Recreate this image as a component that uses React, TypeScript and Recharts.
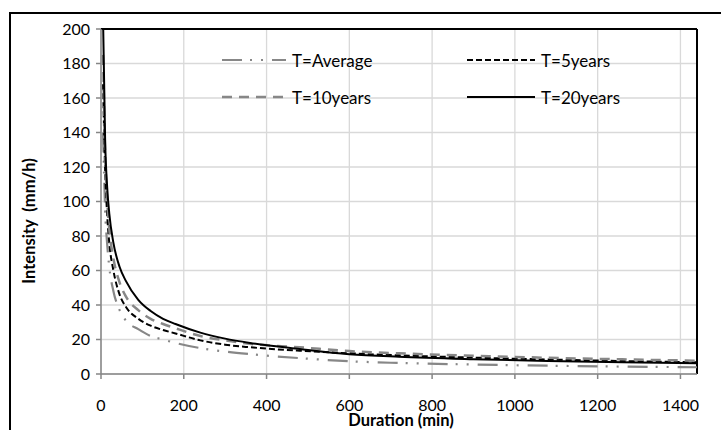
import React from 'react'
import { LineChart, Line, XAxis, YAxis, CartesianGrid, ReferenceLine } from 'recharts'

// durations in minutes
const durations = [5, 10, 15, 20, 30, 45, 60, 90, 120, 150, 180, 240, 300, 360, 480, 600, 720, 900, 1080, 1260, 1440]

// intensity in mm/h
const tAverage = [140, 95, 75, 62, 48, 37, 31, 26, 22, 20, 18, 15, 13, 11.5, 9.2, 7.4, 6.4, 5.5, 4.8, 4.3, 3.9]
const t5years = [168, 118, 92, 76, 60, 46, 39, 32, 28, 25.5, 23.5, 19.5, 17, 15.5, 13.5, 12, 10.8, 9.5, 8.4, 7.5, 6.8]
const t10years = [185, 128, 100, 84, 67, 53, 45, 37, 32, 29, 26.5, 22, 19.5, 17.5, 15.5, 13.3, 12, 10.6, 9.4, 8.5, 7.7]
const t20years = [205, 135, 108, 93, 76, 62, 54, 43, 36.5, 32, 29, 24, 20.5, 18, 14.5, 11.5, 10, 8.6, 7.6, 6.8, 6.2]

const xTicks = [0, 200, 400, 600, 800, 1000, 1200, 1400]
const yTicks = [0, 20, 40, 60, 80, 100, 120, 140, 160, 180, 200]

const series = [
  { key: 'avg', name: 'T=Average', color: '#878787', dash: '20 8 2 9 2 9', width: 2.2 },
  { key: 't5', name: 'T=5years', color: '#000000', dash: '6 3', width: 2 },
  { key: 't10', name: 'T=10years', color: '#878787', dash: '10 7', width: 2.5 },
  { key: 't20', name: 'T=20years', color: '#000000', dash: undefined, width: 2 },
]

const data = durations.map((d, i) => ({
  d,
  avg: tAverage[i],
  t5: t5years[i],
  t10: t10years[i],
  t20: t20years[i],
}))

const font = 'Lato, "Open Sans", sans-serif'
const axisGray = '#868686'

const legendPos = [
  { left: 222, top: 60, lineW: 64 },
  { left: 467, top: 60, lineW: 68 },
  { left: 222, top: 97, lineW: 64 },
  { left: 467, top: 97, lineW: 68 },
]

const App = () => {
  return (
    <div style={{ position: 'absolute', left: 0, top: 0, width: 721, height: 430, overflow: 'hidden', background: '#fff', fontFamily: font }}>
      {/* outer chart border */}
      <div style={{ position: 'absolute', left: 9, top: 12, width: 900, height: 600, border: '2px solid #000' }} />

      <div style={{ position: 'absolute', left: 0, top: 0 }}>
        <LineChart width={721} height={430} data={data} margin={{ top: 29, right: 24, left: 0, bottom: 0 }}>
          <CartesianGrid stroke='#d9d9d9' strokeWidth={1.3} />
          <XAxis
            dataKey='d'
            type='number'
            domain={[0, 1440]}
            ticks={xTicks}
            height={56}
            stroke={axisGray}
            strokeWidth={1.5}
            tickSize={5}
            tickMargin={21}
            tick={{ fill: '#000', fontSize: 16, fontFamily: font }}
          />
          <YAxis
            type='number'
            domain={[0, 200]}
            ticks={yTicks}
            allowDataOverflow
            width={101}
            stroke={axisGray}
            strokeWidth={1.5}
            tickSize={5}
            tickMargin={6}
            tick={{ fill: '#000', fontSize: 16, fontFamily: font }}
          />
          <ReferenceLine y={200} stroke='#000' strokeWidth={2} />
          <ReferenceLine x={1440} stroke='#000' strokeWidth={2} />
          {series.map((s) => (
            <Line
              key={s.key}
              dataKey={s.key}
              name={s.name}
              type='monotone'
              stroke={s.color}
              strokeWidth={s.width}
              strokeDasharray={s.dash}
              dot={false}
              isAnimationActive={false}
            />
          ))}
        </LineChart>
      </div>

      {/* legend */}
      {series.map((s, i) => {
        const p = legendPos[i]
        return (
          <div key={s.key} style={{ position: 'absolute', left: p.left, top: p.top - 11, height: 22, display: 'flex', alignItems: 'center' }}>
            <svg width={p.lineW} height={20} style={{ display: 'block' }}>
              <line x1={0} y1={10} x2={p.lineW} y2={10} stroke={s.color} strokeWidth={s.width} strokeDasharray={s.dash} />
            </svg>
            <span style={{ marginLeft: 6, fontSize: 17, color: '#000', whiteSpace: 'nowrap' }}>{s.name}</span>
          </div>
        )
      })}

      {/* axis titles */}
      <div
        style={{
          position: 'absolute',
          left: 29,
          top: 221,
          transform: 'translate(-50%, -50%) rotate(-90deg)',
          fontSize: 16.5,
          fontWeight: 700,
          whiteSpace: 'pre',
          color: '#000',
        }}
      >
        {'Intensity  (mm/h)'}
      </div>
      <div
        style={{
          position: 'absolute',
          left: 401,
          top: 420,
          transform: 'translate(-50%, -50%)',
          fontSize: 16.5,
          fontWeight: 700,
          whiteSpace: 'nowrap',
          color: '#000',
        }}
      >
        Duration (min)
      </div>
    </div>
  )
}

export default App
